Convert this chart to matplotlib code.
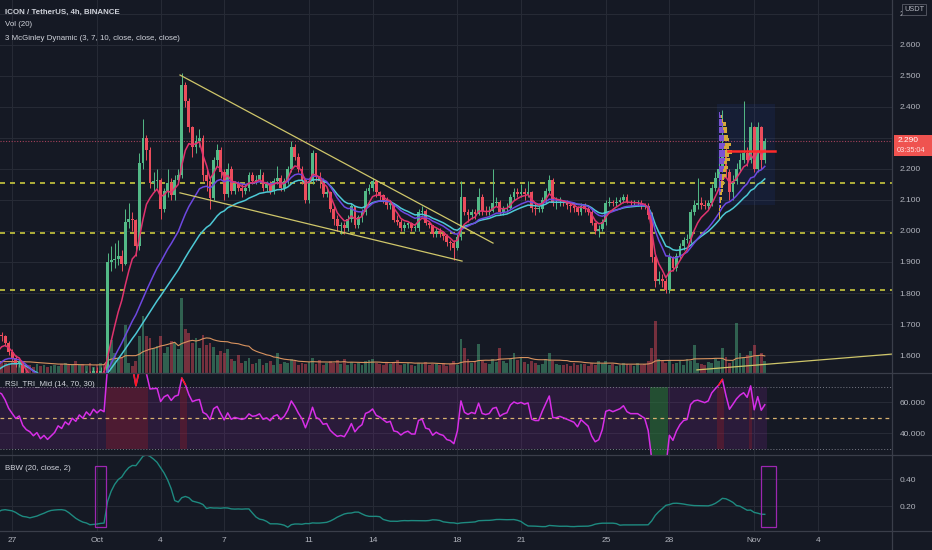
import numpy as np
import matplotlib
matplotlib.use("Agg")
import matplotlib.pyplot as plt
import matplotlib.transforms as mtransforms
from matplotlib.patches import Rectangle
from matplotlib.lines import Line2D

plt.rcParams['font.family'] = ['Liberation Sans', 'DejaVu Sans']

# ICX/USDT 4h candles, one row per day, Sep 23 .. Nov 1
closes = [
    1.52, 1.50, 1.48, 1.47, 1.49, 1.46,
    1.45, 1.47, 1.50, 1.48, 1.52, 1.55,
    1.53, 1.57, 1.55, 1.58, 1.61, 1.58,
    1.60, 1.62, 1.665, 1.66, 1.64, 1.61,
    1.59, 1.57, 1.58, 1.54, 1.52, 1.51,
    1.49, 1.50, 1.47, 1.48, 1.46, 1.47,
    1.48, 1.50, 1.49, 1.51, 1.50, 1.52,
    1.51, 1.53, 1.52, 1.54, 1.53, 1.55,
    1.54, 1.55, 1.545, 1.90, 1.905, 1.91,     # Oct 1
    1.92, 1.895, 2.03, 2.04, 2.035, 1.95,
    2.22, 2.30, 2.26, 2.155, 2.16, 2.165,
    2.07, 2.13, 2.155, 2.115, 2.165, 2.18,
    2.47, 2.42, 2.335, 2.27, 2.29, 2.30,       # Oct 5
    2.18, 2.16, 2.105, 2.23, 2.26, 2.19,
    2.12, 2.20, 2.13, 2.15, 2.14, 2.13,
    2.14, 2.18, 2.16, 2.165, 2.18, 2.14,
    2.15, 2.13, 2.16, 2.17, 2.14, 2.16,
    2.20, 2.27, 2.24, 2.20, 2.165, 2.10,       # Oct 10
    2.16, 2.25, 2.175, 2.16, 2.12, 2.125,
    2.07, 2.04, 2.015, 2.02, 2.01, 2.04,
    2.08, 2.02, 2.045, 2.06, 2.13, 2.14,
    2.16, 2.125, 2.115, 2.10, 2.085, 2.09,
    2.035, 2.03, 2.01, 2.02, 2.025, 2.01,      # Oct 15
    2.01, 2.06, 2.065, 2.025, 2.02, 1.99,
    2.00, 1.99, 1.985, 1.965, 1.96, 1.945,
    1.98, 2.11, 2.06, 2.05, 2.06, 2.055,
    2.11, 2.065, 2.06, 2.065, 2.09, 2.095,
    2.06, 2.07, 2.075, 2.11, 2.125, 2.12,      # Oct 20
    2.125, 2.12, 2.125, 2.075, 2.07, 2.07,
    2.10, 2.13, 2.165, 2.09, 2.09, 2.095,
    2.09, 2.085, 2.08, 2.075, 2.06, 2.08,
    2.07, 2.06, 2.025, 2.00, 2.005, 2.03,
    2.09, 2.095, 2.09, 2.095, 2.10, 2.11,      # Oct 25
    2.095, 2.09, 2.09, 2.09, 2.085, 2.08,
    2.05, 1.915, 1.84, 1.845, 1.84, 1.81,
    1.915, 1.88, 1.92, 1.95, 1.97, 1.975,
    2.06, 2.085, 2.09, 2.085, 2.08, 2.09,
    2.14, 2.17, 2.20, 2.25, 2.19, 2.125,       # Oct 30
    2.16, 2.20, 2.23, 2.25, 2.23, 2.335,
    2.20, 2.335, 2.23, 2.29,
]
highs = [
    1.53, 1.53, 1.51, 1.49, 1.50, 1.50,
    1.47, 1.48, 1.51, 1.51, 1.53, 1.56,
    1.56, 1.58, 1.58, 1.59, 1.62, 1.62,
    1.61, 1.63, 1.68, 1.675, 1.665, 1.645,
    1.62, 1.60, 1.59, 1.58, 1.55, 1.53,
    1.52, 1.51, 1.50, 1.49, 1.49, 1.48,
    1.49, 1.51, 1.51, 1.52, 1.52, 1.53,
    1.53, 1.54, 1.54, 1.55, 1.55, 1.56,
    1.56, 1.56, 1.56, 1.93, 1.95, 1.96,
    1.97, 1.94, 2.07, 2.09, 2.06, 2.04,
    2.25, 2.36, 2.31, 2.27, 2.19, 2.20,
    2.17, 2.14, 2.20, 2.17, 2.18, 2.20,
    2.51, 2.48, 2.43, 2.34, 2.31, 2.33,
    2.31, 2.20, 2.17, 2.24, 2.28, 2.27,
    2.20, 2.22, 2.21, 2.16, 2.16, 2.15,
    2.15, 2.19, 2.19, 2.18, 2.20, 2.19,
    2.16, 2.16, 2.17, 2.21, 2.18, 2.17,
    2.21, 2.29, 2.28, 2.25, 2.21, 2.17,
    2.17, 2.26, 2.25, 2.19, 2.17, 2.14,
    2.13, 2.08, 2.05, 2.03, 2.03, 2.05,
    2.09, 2.08, 2.05, 2.07, 2.14, 2.15,
    2.17, 2.16, 2.13, 2.12, 2.11, 2.10,
    2.09, 2.05, 2.04, 2.03, 2.03, 2.03,
    2.02, 2.07, 2.08, 2.07, 2.03, 2.02,
    2.01, 2.01, 2.00, 1.99, 1.97, 1.97,
    1.99, 2.16, 2.11, 2.07, 2.07, 2.07,
    2.14, 2.12, 2.08, 2.08, 2.20, 2.11,
    2.10, 2.08, 2.09, 2.12, 2.14, 2.14,
    2.15, 2.14, 2.16, 2.13, 2.09, 2.08,
    2.11, 2.14, 2.18, 2.17, 2.11, 2.11,
    2.10, 2.10, 2.09, 2.09, 2.08, 2.09,
    2.09, 2.08, 2.07, 2.03, 2.02, 2.04,
    2.10, 2.11, 2.10, 2.11, 2.11, 2.12,
    2.12, 2.10, 2.10, 2.10, 2.10, 2.09,
    2.09, 2.06, 1.93, 1.87, 1.86, 1.85,
    1.93, 1.92, 1.93, 1.96, 1.98, 1.99,
    2.07, 2.10, 2.17, 2.11, 2.10, 2.10,
    2.15, 2.19, 2.25, 2.39, 2.27, 2.20,
    2.18, 2.22, 2.25, 2.42, 2.27, 2.35,
    2.34, 2.35, 2.34, 2.30,
]
lows = [
    1.50, 1.49, 1.47, 1.46, 1.46, 1.45,
    1.44, 1.44, 1.46, 1.47, 1.47, 1.51,
    1.52, 1.52, 1.54, 1.54, 1.57, 1.57,
    1.57, 1.59, 1.61, 1.645, 1.63, 1.60,
    1.58, 1.56, 1.56, 1.53, 1.51, 1.50,
    1.48, 1.48, 1.46, 1.46, 1.45, 1.45,
    1.46, 1.47, 1.48, 1.48, 1.49, 1.49,
    1.50, 1.50, 1.51, 1.51, 1.52, 1.52,
    1.53, 1.53, 1.53, 1.54, 1.87, 1.88,
    1.89, 1.87, 1.89, 2.01, 2.00, 1.92,
    1.94, 2.20, 2.23, 2.14, 2.13, 2.14,
    2.04, 2.06, 2.11, 2.10, 2.10, 2.15,
    2.17, 2.40, 2.32, 2.24, 2.25, 2.27,
    2.16, 2.13, 2.07, 2.10, 2.21, 2.17,
    2.10, 2.11, 2.12, 2.12, 2.13, 2.11,
    2.12, 2.13, 2.15, 2.15, 2.16, 2.13,
    2.13, 2.12, 2.12, 2.15, 2.13, 2.13,
    2.15, 2.19, 2.23, 2.19, 2.15, 2.09,
    2.09, 2.15, 2.16, 2.14, 2.11, 2.11,
    2.06, 2.02, 2.00, 1.99, 1.99, 2.00,
    2.03, 2.01, 2.01, 2.03, 2.05, 2.12,
    2.13, 2.11, 2.10, 2.09, 2.07, 2.07,
    2.03, 2.02, 2.00, 2.00, 2.01, 2.00,
    2.00, 2.00, 2.05, 2.02, 2.01, 1.98,
    1.98, 1.98, 1.97, 1.95, 1.94, 1.905,
    1.94, 1.97, 2.05, 2.03, 2.04, 2.04,
    2.05, 2.05, 2.05, 2.05, 2.06, 2.08,
    2.05, 2.05, 2.06, 2.07, 2.10, 2.11,
    2.11, 2.10, 2.11, 2.06, 2.05, 2.06,
    2.06, 2.09, 2.12, 2.08, 2.07, 2.08,
    2.08, 2.07, 2.06, 2.06, 2.05, 2.05,
    2.06, 2.05, 2.02, 1.99, 1.98, 2.00,
    2.02, 2.08, 2.08, 2.08, 2.09, 2.09,
    2.09, 2.08, 2.08, 2.08, 2.07, 2.07,
    2.04, 1.90, 1.82, 1.83, 1.82, 1.80,
    1.80, 1.87, 1.87, 1.91, 1.94, 1.96,
    1.96, 2.05, 2.07, 2.07, 2.07, 2.07,
    2.08, 2.13, 2.16, 2.19, 2.17, 2.10,
    2.10, 2.15, 2.19, 2.22, 2.21, 2.22,
    2.19, 2.19, 2.20, 2.22,
]
volumes = [
    10, 9, 11, 8, 10, 9,
    9, 11, 12, 9, 13, 14,
    12, 14, 10, 12, 15, 11,
    9, 11, 16, 12, 10, 9,
    12, 9, 8, 10, 7, 8,
    6, 9, 7, 8, 6, 7,
    8, 7, 9, 10, 8, 9,
    12, 8, 9, 7, 10, 6,
    8, 10, 9, 92, 33, 20,
    14, 16, 48, 10, 7, 12,
    37, 57, 37, 35, 25, 27,
    37, 20, 26, 32, 30, 24,
    75, 44, 40, 30, 35, 25,
    38, 28, 30, 26, 18, 22,
    20, 24, 14, 12, 18, 10,
    12, 15, 9, 10, 14, 8,
    10, 12, 8, 20, 9, 11,
    10, 14, 12, 8, 10, 9,
    11, 15, 9, 13, 8, 10,
    12, 10, 13, 9, 14, 8,
    11, 9, 10, 8, 12, 13,
    14, 10, 9, 8, 10, 9,
    11, 13, 8, 9, 10, 8,
    7, 10, 9, 11, 8, 9,
    9, 8, 10, 7, 9, 12,
    8, 34, 25, 14, 10, 12,
    29, 12, 10, 9, 14, 11,
    25, 12, 10, 14, 20, 13,
    15, 11, 9, 12, 10, 8,
    9, 14, 20, 12, 9, 8,
    8, 9, 7, 10, 8, 9,
    9, 7, 10, 8, 12, 9,
    12, 8, 9, 7, 8, 10,
    9, 8, 7, 10, 8, 9,
    12, 25, 52, 14, 12, 10,
    13, 9, 10, 12, 8, 14,
    12, 28, 10, 9, 8, 11,
    10, 14, 12, 25, 16, 10,
    12, 50, 20, 16, 18, 22,
    28, 18, 20, 12,
]

# fixed range volume profile (Oct 30 - Nov 1)
vp_prices = [2.38, 2.37, 2.355, 2.345, 2.33, 2.32, 2.305, 2.295, 2.28, 2.27,
             2.255, 2.245, 2.23, 2.22, 2.205, 2.195, 2.18, 2.17, 2.155, 2.145,
             2.13, 2.12, 2.105, 2.095, 2.08, 2.07, 2.055, 2.045]
vp_up = [1, 2, 3, 4, 4, 5, 5, 5, 6, 5, 6, 6, 6, 5, 5, 4, 3, 3, 2, 2,
         1.5, 1, 1, 0.5, 0.5, 0.3, 0.2, 0.2]
vp_down = [0, 0.5, 1, 3, 4, 3, 4, 5, 6, 5, 7, 4, 5, 3, 4, 3, 4, 2, 3, 2,
           2, 2, 1.5, 1.5, 1, 1, 0.8, 0.5]
poc_price = 2.257

levels = [2.155, 1.995, 1.81]
day_ticks = [-4, 0, 3, 6, 10, 13, 17, 20, 24, 27, 31, 34]
day_labels = ['27', 'Oct', '4', '7', '11', '14', '18', '21', '25', '28', 'Nov', '4']
price_ticks = [1.6, 1.7, 1.8, 1.9, 2.0, 2.1, 2.2, 2.3, 2.4, 2.5, 2.6, 2.7]

BG = '#151924'
GRID = '#262a35'
SEP = '#3a3e4a'
TXT = '#b2b5be'
UP = '#53b987'
DN = '#eb4d5c'


def mcginley(src, n):
    md = np.zeros(len(src))
    md[0] = src[0]
    for i in range(1, len(src)):
        md[i] = md[i-1] + (src[i] - md[i-1]) / (n * (src[i] / md[i-1]) ** 4)
    return md


def rsi(src, n=14):
    d = np.diff(src, prepend=src[0])
    up = np.maximum(d, 0)
    dn = np.maximum(-d, 0)
    au = np.zeros(len(src))
    ad = np.zeros(len(src))
    au[n] = up[1:n+1].mean()
    ad[n] = dn[1:n+1].mean()
    for i in range(n+1, len(src)):
        au[i] = (au[i-1]*(n-1) + up[i]) / n
        ad[i] = (ad[i-1]*(n-1) + dn[i]) / n
    r = 100 - 100 / (1 + au / np.maximum(ad, 1e-9))
    r[:n] = np.nan
    return r


def rolling(src, n, fn):
    out = np.full(len(src), np.nan)
    for i in range(n-1, len(src)):
        out[i] = fn(src[i-n+1:i+1])
    return out


c = np.array(closes)
h = np.array(highs)
l = np.array(lows)
v = np.array(volumes, dtype=float)
o = np.concatenate([[c[0]], c[:-1]])
h = np.maximum(h, np.maximum(o, c))
l = np.minimum(l, np.minimum(o, c))
n = len(c)
t = -8 + np.arange(n) / 6.0   # days from Oct 1 00:00
isup = c >= o
cols = np.where(isup, UP, DN)

md3 = mcginley(c, 3)
md7 = mcginley(c, 7)
md10 = mcginley(c, 10)
r = rsi(c, 14)
bbw = rolling(c, 20, lambda w: 4 * w.std() / w.mean())
vma = rolling(v, 20, np.mean)

W, H = 932, 550
fig = plt.figure(figsize=(W/100, H/100), dpi=100, facecolor=BG)

def pane(top, bottom):
    a = fig.add_axes([0, 1 - bottom/H, 892/W, (bottom - top)/H])
    a.set_facecolor(BG)
    for s in a.spines.values():
        s.set_visible(False)
    a.set_xlim(-4.575, 37.5)
    a.set_xticks(day_ticks)
    a.tick_params(length=0, labelsize=6, colors=TXT)
    a.yaxis.tick_right()
    a.tick_params(axis='y', pad=5.5)
    a.grid(color=GRID, lw=0.8, zorder=0)
    a.set_axisbelow(True)
    return a

ax = pane(0, 373)
ax_r = pane(373, 455)
ax_b = pane(455, 531)

# ---- main pane
ax.set_ylim(1.542, 2.745)
ax.set_yticks(price_ticks)
# 2.300 sits under the last price tag
ax.set_yticklabels(['' if abs(p - 2.3) < 1e-6 else '%.3f' % p for p in price_ticks])
ax.set_xticklabels([])

trans = mtransforms.blended_transform_factory(ax.transData, ax.transAxes)
ax.bar(t, v / 373.0, width=0.13, bottom=0, color=cols, alpha=0.45,
       transform=trans, zorder=1)
ax.plot(t, vma / 373.0, color='#d9935f', lw=0.8, transform=trans, zorder=2)

for lv in levels:
    ax.axhline(lv, color='#c8c83e', lw=1.2, ls=(0, (3, 3)), zorder=2)
ax.axhline(2.29, color='#a3415a', lw=0.8, ls=(0, (1, 1.5)), zorder=2)

ax.vlines(t, l, h, colors=cols, lw=0.7, zorder=3)
ax.bar(t, np.maximum(np.abs(c - o), 0.003), bottom=np.minimum(o, c),
       width=0.13, color=cols, zorder=4)

ax.plot(t, md10, color='#4dc9d6', lw=1.1, zorder=5)
ax.plot(t, md7, color='#6d48e0', lw=1.1, zorder=5)
ax.plot(t, md3, color='#e0336e', lw=1.1, zorder=5)

# trend lines
ax.plot([3.915, 18.68], [2.503, 1.961], color='#cfc66a', lw=0.9, zorder=6)
ax.plot([3.915, 17.22], [2.123, 1.903], color='#cfc66a', lw=0.9, zorder=6)
ax.plot([28.3, 37.5], [1.552, 1.603], color='#cfc66a', lw=0.9, zorder=6)

# volume profile
vp_x0 = 29.34
ax.add_patch(Rectangle((29.25, 2.085), 2.71, 0.325, facecolor='#2962ff',
                       alpha=0.08, lw=0, zorder=2))
vu = np.array(vp_up) / 21.2
vd = np.array(vp_down) / 21.2
ax.barh(vp_prices, vu, height=0.0105, left=vp_x0, color='#7a52d1', zorder=5)
ax.barh(vp_prices, vd, height=0.0105, left=vp_x0 + vu, color='#d4a93a', zorder=5)
ax.plot([29.76, 31.96], [poc_price, poc_price], color='#ff2a2a', lw=1.8, zorder=7)

# ---- RSI pane
ax_r.set_ylim(26.1, 79)
ax_r.set_yticks([40, 60])
ax_r.set_yticklabels(['40.000', '60.000'])
ax_r.set_xticklabels([])
half = 1 / 12.0
ax_r.fill_between([t[0], t[-1] + half], 30, 70, color='#9c27b0', alpha=0.16,
                  lw=0, zorder=1)
for ti, ri in zip(t, r):
    if ri > 70:
        ax_r.axvspan(ti - half, ti + half, ymin=(30 - 26.1) / 52.9,
                     ymax=(70 - 26.1) / 52.9, color='#b71c1c', alpha=0.25, lw=0, zorder=1)
    elif ri < 30:
        ax_r.axvspan(ti - half, ti + half, ymin=0, ymax=(70 - 26.1) / 52.9,
                     color='#1b8e2a', alpha=0.45, lw=0, zorder=1)
ax_r.axhline(70, color='#787b86', lw=0.7, ls=(0, (1, 2)), zorder=2)
ax_r.axhline(30, color='#787b86', lw=0.7, ls=(0, (1, 2)), zorder=2)
ax_r.axhline(50, color='#d9b26f', lw=0.9, ls=(0, (3, 3)), zorder=2)
ax_r.plot(t, r, color='#d62ee6', lw=1.1, zorder=3)
ax_r.plot(t, np.where(r >= 70, r, np.nan), color='#ff1a1a', lw=1.1, zorder=4)
ax_r.plot(t, np.where(r <= 30, r, np.nan), color='#22dd22', lw=1.1, zorder=4)

# ---- BBW pane
ax_b.set_ylim(0.015, 0.578)
ax_b.set_yticks([0.2, 0.4])
ax_b.set_yticklabels(['0.20', '0.40'])
ax_b.set_xticklabels(day_labels)
ax_b.tick_params(axis='x', pad=4.5)
ax_b.plot(t, bbw, color='#1e8a80', lw=1.0, zorder=3)
for x0, x1 in [(-0.094, 0.425), (31.32, 32.03)]:
    ax_b.add_patch(Rectangle((x0, 0.044), x1 - x0, 0.45, fill=False,
                             edgecolor='#9c27b0', lw=0.9, zorder=4))

# ---- separators and right scale
for yy in [373, 455, 531]:
    fig.add_artist(Line2D([0, 1], [1 - yy/H, 1 - yy/H], color=SEP, lw=0.9))
fig.add_artist(Line2D([892/W, 892/W], [0, 1], color=SEP, lw=0.9))

fig.add_artist(Rectangle((894/W, 1 - 156/H), 38/W, 21/H, facecolor='#ef5350',
                         edgecolor='none', transform=fig.transFigure))
fig.text(898/W, 1 - 141/H, '2.290', color='white', fontsize=6, va='center')
fig.text(897/W, 1 - 151/H, '03:35:04', color='#fde0e0', fontsize=5.3, va='center')

fig.add_artist(Rectangle((902/W, 1 - 15/H), 24/W, 11/H, facecolor=BG,
                         edgecolor='#50535e', lw=0.7, transform=fig.transFigure))
fig.text(914/W, 1 - 9.5/H, 'USDT', color=TXT, fontsize=5.3, va='center', ha='center')

# ---- legends
LEG = '#d1d4dc'
fig.text(5/W, 1 - 12/H, 'ICON / TetherUS, 4h, BINANCE', color=LEG, fontsize=5.7,
         fontweight='bold', va='center')
fig.text(5/W, 1 - 25/H, 'Vol (20)', color=LEG, fontsize=5.7, va='center')
fig.text(5/W, 1 - 38/H, '3 McGinley Dynamic (3, 7, 10, close, close, close)',
         color=LEG, fontsize=5.7, va='center')
fig.text(5/W, 1 - 385/H, 'RSI_TRI_Mid (14, 70, 30)', color=LEG, fontsize=5.7, va='center')
fig.text(5/W, 1 - 469/H, 'BBW (20, close, 2)', color=LEG, fontsize=5.7, va='center')

fig.savefig('out.png', dpi=100, facecolor=BG)
